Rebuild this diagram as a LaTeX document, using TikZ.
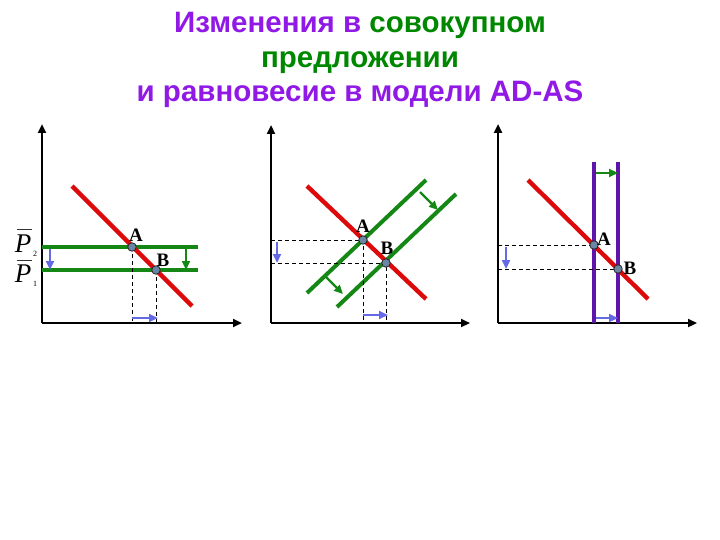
\documentclass[tikz,border=0pt]{standalone}
\usepackage{fontspec}
\setmainfont{Liberation Serif}
\newfontfamily\titlefont{Liberation Sans}
\usetikzlibrary{arrows.meta}
\definecolor{ttlpurple}{RGB}{145,25,230}
\definecolor{ttlgreen}{RGB}{0,135,0}
\definecolor{adred}{RGB}{220,10,10}
\definecolor{asgreen}{RGB}{20,135,20}
\definecolor{lrpurple}{RGB}{95,20,170}
\definecolor{arrblue}{RGB}{100,105,230}
\definecolor{ptfill}{RGB}{105,135,165}
\tikzset{
  axis/.style={line width=2.5pt,-{Triangle[length=9pt,width=8pt]}},
  adline/.style={adred,line width=4.4pt},
  asline/.style={asgreen,line width=4pt},
  lrline/.style={lrpurple,line width=3.4pt},
  guide/.style={line width=1pt,dash pattern=on 4pt off 3pt},
  bluearr/.style={arrblue,line width=2.4pt,-{Triangle[length=9pt,width=8pt]}},
  greenarr/.style={asgreen,line width=2.4pt,-{Triangle[length=9pt,width=8pt]}},
  eqpt/.style={circle,fill=ptfill,draw=black!85,line width=0.8pt,inner sep=0pt,minimum size=8.5pt},
  ptlabel/.style={font=\bfseries\fontsize{19}{19}\selectfont,inner sep=0pt},
  plabel/.style={inner sep=0pt,font=\itshape\fontsize{27}{27}\selectfont},
  pbar/.style={line width=1pt,black!80},
  subl/.style={inner sep=0pt,font=\fontsize{8}{8}\selectfont}
}
\begin{document}
\begin{tikzpicture}[x=1pt,y=-1pt]
\useasboundingbox (0,0) rectangle (720,540);
% Title
\node[inner sep=0pt,font=\titlefont\bfseries\fontsize{29.5}{34.5}\selectfont,align=center] (title) at (360,60)
  {\textcolor{ttlpurple}{Изменения в }\textcolor{ttlgreen}{совокупном}\\
   \textcolor{ttlgreen}{предложении}\\
   \textcolor{ttlpurple}{и равновесие в модели AD-AS}};

% ===== Panel 1 =====
\coordinate (o1) at (42,323);
\coordinate (y1) at (42,124);
\coordinate (x1) at (242,323);
\draw[axis] (o1) -- (y1);
\draw[axis] (o1) -- (x1);
\coordinate (ad1s) at (72,186);
\coordinate (ad1e) at (192,306);
\coordinate (p2l) at (42,247);
\coordinate (p2r) at (198,247);
\coordinate (p1l) at (42,270);
\coordinate (p1r) at (198,270);
\draw[asline] (p2l) -- (p2r);
\draw[asline] (p1l) -- (p1r);
\draw[adline] (ad1s) -- (ad1e);
\coordinate (A1b) at (132,323);
\coordinate (B1b) at (156,323);
\draw[guide] (132,247) -- (A1b);
\draw[guide] (156,270) -- (B1b);
\node[eqpt] (A1) at (132,247) {};
\node[eqpt] (B1) at (156,270) {};
\node[ptlabel] (lA1) at (136,235) {A};
\node[ptlabel] (lB1) at (163,260) {B};
\coordinate (b1s) at (132,318);
\coordinate (b1e) at (158,318);
\draw[bluearr] (b1s) -- (b1e);
\coordinate (v1s) at (50,249);
\coordinate (v1e) at (50,270);
\draw[bluearr] (v1s) -- (v1e);
\coordinate (g1s) at (186,249);
\coordinate (g1e) at (186,270);
\draw[greenarr] (g1s) -- (g1e);
% P labels
\node[plabel] (P2) at (23,244) {P};
\node[subl] (P2s) at (35,254) {2};
\coordinate (P2bl) at (17,230);
\coordinate (P2br) at (32,230);
\draw[pbar] (P2bl) -- (P2br);
\node[plabel] (P1) at (23,274) {P};
\node[subl] (P1s) at (35,284) {1};
\coordinate (P1bl) at (17,260);
\coordinate (P1br) at (32,260);
\draw[pbar] (P1bl) -- (P1br);

% ===== Panel 2 =====
\coordinate (o2) at (271,323);
\coordinate (y2) at (271,125);
\coordinate (x2) at (470,323);
\draw[axis] (o2) -- (y2);
\draw[axis] (o2) -- (x2);
\coordinate (as1s) at (307,293);
\coordinate (as1e) at (426,180);
\coordinate (as2s) at (337,307);
\coordinate (as2e) at (456,194);
\draw[asline] (as1s) -- (as1e);
\draw[asline] (as2s) -- (as2e);
\coordinate (ad2s) at (307,186);
\coordinate (ad2e) at (426,299);
\draw[adline] (ad2s) -- (ad2e);
\coordinate (A2l) at (271,240);
\coordinate (B2l) at (271,263);
\coordinate (A2b) at (363,323);
\coordinate (B2b) at (386,323);
\draw[guide] (A2l) -- (363,240) -- (A2b);
\draw[guide] (B2l) -- (386,263) -- (B2b);
\node[eqpt] (A2) at (363,240) {};
\node[eqpt] (B2) at (386,263) {};
\node[ptlabel] (lA2) at (363,226) {A};
\node[ptlabel] (lB2) at (387,248) {B};
\coordinate (b2s) at (363,315);
\coordinate (b2e) at (388,315);
\draw[bluearr] (b2s) -- (b2e);
\coordinate (v2s) at (277,242);
\coordinate (v2e) at (277,263);
\draw[bluearr] (v2s) -- (v2e);
\coordinate (g2s) at (325,276);
\coordinate (g2e) at (343,294);
\draw[greenarr] (g2s) -- (g2e);
\coordinate (g3s) at (420,192);
\coordinate (g3e) at (438,210);
\draw[greenarr] (g3s) -- (g3e);

% ===== Panel 3 =====
\coordinate (o3) at (498,323);
\coordinate (y3) at (498,124);
\coordinate (x3) at (697,323);
\draw[axis] (o3) -- (y3);
\draw[axis] (o3) -- (x3);
\coordinate (lr1t) at (594,162);
\coordinate (lr1b) at (594,323);
\coordinate (lr2t) at (618,162);
\coordinate (lr2b) at (618,323);
\draw[lrline] (lr1t) -- (lr1b);
\draw[lrline] (lr2t) -- (lr2b);
\coordinate (ad3s) at (528,180);
\coordinate (ad3e) at (648,299);
\draw[adline] (ad3s) -- (ad3e);
\coordinate (A3l) at (498,245);
\coordinate (B3l) at (498,269);
\draw[guide] (A3l) -- (594,245);
\draw[guide] (B3l) -- (618,269);
\node[eqpt] (A3) at (594,245) {};
\node[eqpt] (B3) at (618,269) {};
\node[ptlabel] (lA3) at (604,239) {A};
\node[ptlabel] (lB3) at (630,268) {B};
\coordinate (g4s) at (596,173);
\coordinate (g4e) at (618,173);
\draw[greenarr] (g4s) -- (g4e);
\coordinate (b3s) at (596,318);
\coordinate (b3e) at (618,318);
\draw[bluearr] (b3s) -- (b3e);
\coordinate (v3s) at (506,247);
\coordinate (v3e) at (506,269);
\draw[bluearr] (v3s) -- (v3e);
\end{tikzpicture}
\end{document}
